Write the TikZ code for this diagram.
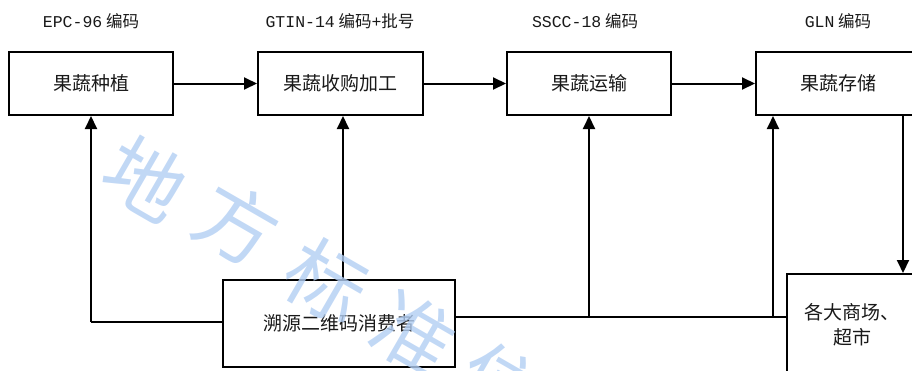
\documentclass[tikz,border=0pt]{standalone}
\usepackage{fontspec}
\setmainfont{Liberation Mono}
\newfontfamily\cjk{Noto Sans CJK SC}
\usetikzlibrary{arrows.meta}
\definecolor{wm}{RGB}{178,206,243}
\definecolor{txt}{RGB}{25,25,25}
\tikzset{
  box/.style={draw, line width=2pt, inner sep=0pt, text=txt, font=\cjk\fontsize{19}{25}\selectfont, align=center},
  head/.style={inner sep=0pt, text=txt, font=\fontsize{16.5}{19}\selectfont},
  conn/.style={line width=2pt},
  arr/.style={line width=2pt, -{Triangle[length=13pt,width=12pt]}},
  wmark/.style={text=wm, font=\cjk\fontsize{80}{82}\selectfont, rotate=-30, inner sep=0pt, opacity=0.8}
}
\begin{document}
\begin{tikzpicture}[x=1pt,y=-1pt]
\useasboundingbox (0,0) rectangle (912,370);
\clip (0,0) rectangle (912,370);
% headers
\node[head] (h1) at (91,21) {EPC-96{\cjk\ 编码}};
\node[head] (h2) at (340,21) {GTIN-14{\cjk\ 编码}+{\cjk 批号}};
\node[head] (h3) at (585,21) {SSCC-18{\cjk\ 编码}};
\node[head] (h4) at (838,21) {GLN{\cjk\ 编码}};
% boxes
\node[box, minimum width=164pt, minimum height=63pt] (b1) at (91,83.5) {果蔬种植};
\node[box, minimum width=165pt, minimum height=63pt] (b2) at (340.5,83.5) {果蔬收购加工};
\node[box, minimum width=164pt, minimum height=63pt] (b3) at (589,83.5) {果蔬运输};
\node[box, minimum width=164pt, minimum height=63pt] (b4) at (838,83.5) {果蔬存储};
\node[box, minimum width=232pt, minimum height=87pt] (b5) at (339,323.5) {溯源二维码消费者};
\node[box, minimum width=130pt, minimum height=102pt] (b6) at (852,325) {各大商场、\\超市};
% connectors
\draw[arr] (b1) -- (b2);
\draw[arr] (b2) -- (b3);
\draw[arr] (b3) -- (b4);
\coordinate (j1) at (91,322);
\coordinate (a2) at (343,0);
\coordinate (j3) at (589,317);
\coordinate (j4) at (773,317);
\coordinate (d) at (903,0);
\draw[conn] (b5.west |- j1) -- (j1);
\draw[arr] (j1) -- (b1.south -| j1);
\draw[arr] (b5.north -| a2) -- (b2.south -| a2);
\draw[conn] (b5.east |- j3) -- (b6.west |- j3);
\draw[arr] (j3) -- (b3.south -| j3);
\draw[arr] (j4) -- (b4.south -| j4);
\draw[arr] (b4.south -| d) -- (b6.north -| d);
% watermark
\node[wmark] (w1) at (146,178) {地};
\node[wmark] (w2) at (237,224) {方};
\node[wmark] (w3) at (326,281) {标};
\node[wmark] (w4) at (414,334) {准};
\node[wmark] (w5) at (500,385) {信};
\end{tikzpicture}
\end{document}
